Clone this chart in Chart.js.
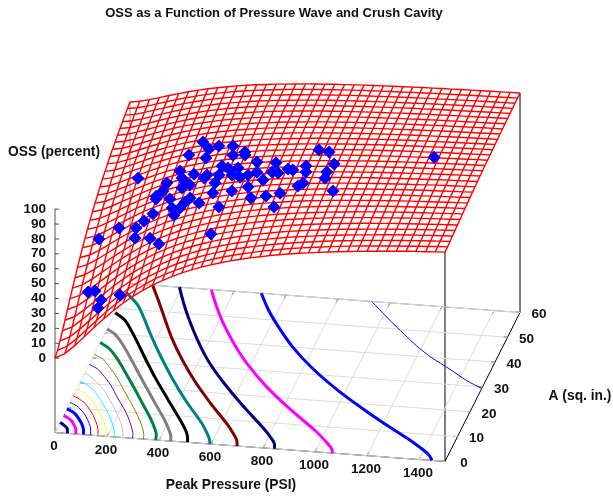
<!DOCTYPE html>
<html>
<head>
<meta charset="utf-8">
<title>OSS as a Function of Pressure Wave and Crush Cavity</title>
<script src="https://cdn.jsdelivr.net/npm/chart.js@4"></script>
<style>
  html, body { margin: 0; padding: 0; background: #fff; }
  canvas { display: block; }
</style>
</head>
<body>
<canvas id="chart" width="613" height="498"></canvas>
<script>
const chartTitle = "OSS as a Function of Pressure Wave and Crush Cavity";
const pressureLabel = "Peak Pressure (PSI)";
const areaLabel = "A (sq. in.)";
const ossLabel = "OSS (percent)";

const pressureTicks = [0, 200, 400, 600, 800, 1000, 1200, 1400];
const areaTicks = [0, 10, 20, 30, 40, 50, 60];
const ossTicks = [0, 10, 20, 30, 40, 50, 60, 70, 80, 90, 100];

// surface nodes: one row of OSS per area, one column per pressure
const meshPressures = [0, 37.5, 75, 112.5, 150, 187.5, 225, 262.5, 300, 337.5, 375, 412.5, 450, 487.5, 525, 562.5, 600, 637.5, 675, 712.5, 750, 787.5, 825, 862.5, 900, 937.5, 975, 1012.5, 1050, 1087.5, 1125, 1162.5, 1200, 1237.5, 1275, 1312.5, 1350, 1387.5, 1425, 1462.5, 1500];
const meshAreas = [0, 2, 4, 6, 8, 10, 12, 14, 16, 18, 20, 22, 24, 26, 28, 30, 32, 34, 36, 38, 40, 42, 44, 46, 48, 50, 52, 54, 56, 58, 60];
const meshOss = [
  [0, 3.4, 9.1, 15.7, 22.4, 28.8, 34.8, 40.3, 45.3, 49.7, 53.7, 57.3, 60.5, 63.4, 65.9, 68.3, 70.3, 72.2, 73.9, 75.5, 76.9, 78.2, 79.4, 80.5, 81.5, 82.4, 83.2, 84.0, 84.7, 85.4, 86.0, 86.6, 87.2, 87.7, 88.2, 88.6, 89.1, 89.5, 89.8, 90.2, 90.5],
  [1.8, 5.1, 10.8, 17.2, 23.8, 30.1, 36.0, 41.4, 46.2, 50.6, 54.6, 58.1, 61.2, 64.0, 66.6, 68.8, 70.9, 72.7, 74.4, 75.9, 77.3, 78.6, 79.7, 80.8, 81.8, 82.7, 83.5, 84.3, 85.0, 85.7, 86.3, 86.9, 87.4, 87.9, 88.4, 88.8, 89.2, 89.6, 90.0, 90.4, 90.7],
  [4.8, 8.0, 13.5, 19.7, 26.1, 32.2, 37.9, 43.2, 47.9, 52.1, 55.9, 59.3, 62.4, 65.1, 67.6, 69.8, 71.8, 73.6, 75.2, 76.7, 78.0, 79.2, 80.4, 81.4, 82.3, 83.2, 84.0, 84.8, 85.5, 86.1, 86.7, 87.3, 87.8, 88.3, 88.7, 89.2, 89.6, 90.0, 90.3, 90.7, 91.0],
  [8.3, 11.4, 16.7, 22.7, 28.8, 34.7, 40.2, 45.2, 49.8, 53.9, 57.6, 60.8, 63.8, 66.4, 68.8, 70.9, 72.8, 74.5, 76.1, 77.5, 78.8, 80.0, 81.1, 82.1, 83.0, 83.8, 84.6, 85.3, 86.0, 86.6, 87.2, 87.7, 88.2, 88.7, 89.2, 89.6, 90.0, 90.3, 90.7, 91.0, 91.3],
  [12.0, 15.0, 20.1, 25.9, 31.7, 37.4, 42.7, 47.5, 51.9, 55.8, 59.3, 62.4, 65.3, 67.8, 70.0, 72.1, 73.9, 75.6, 77.1, 78.4, 79.7, 80.8, 81.9, 82.8, 83.7, 84.5, 85.2, 85.9, 86.6, 87.2, 87.7, 88.2, 88.7, 89.2, 89.6, 90.0, 90.4, 90.7, 91.1, 91.4, 91.7],
  [15.9, 18.8, 23.6, 29.1, 34.7, 40.1, 45.2, 49.8, 54.0, 57.7, 61.1, 64.1, 66.8, 69.2, 71.4, 73.3, 75.1, 76.6, 78.1, 79.4, 80.6, 81.7, 82.7, 83.6, 84.4, 85.2, 85.9, 86.6, 87.2, 87.7, 88.3, 88.8, 89.2, 89.7, 90.1, 90.4, 90.8, 91.1, 91.5, 91.7, 92.0],
  [19.8, 22.5, 27.1, 32.4, 37.7, 42.9, 47.7, 52.1, 56.1, 59.7, 62.9, 65.7, 68.3, 70.6, 72.7, 74.5, 76.2, 77.7, 79.1, 80.3, 81.5, 82.5, 83.5, 84.3, 85.1, 85.9, 86.5, 87.2, 87.8, 88.3, 88.8, 89.3, 89.7, 90.1, 90.5, 90.9, 91.2, 91.5, 91.8, 92.1, 92.4],
  [23.6, 26.2, 30.6, 35.6, 40.7, 45.6, 50.2, 54.4, 58.2, 61.6, 64.6, 67.4, 69.8, 72.0, 74.0, 75.7, 77.3, 78.8, 80.1, 81.3, 82.4, 83.3, 84.2, 85.1, 85.8, 86.5, 87.2, 87.8, 88.3, 88.9, 89.3, 89.8, 90.2, 90.6, 91.0, 91.3, 91.6, 91.9, 92.2, 92.5, 92.8],
  [27.2, 29.7, 33.9, 38.7, 43.5, 48.2, 52.6, 56.6, 60.2, 63.4, 66.3, 68.9, 71.3, 73.3, 75.2, 76.9, 78.4, 79.8, 81.0, 82.2, 83.2, 84.1, 85.0, 85.8, 86.5, 87.2, 87.8, 88.4, 88.9, 89.4, 89.8, 90.3, 90.7, 91.0, 91.4, 91.7, 92.0, 92.3, 92.6, 92.9, 93.1],
  [30.7, 33.1, 37.1, 41.6, 46.2, 50.7, 54.9, 58.7, 62.1, 65.2, 67.9, 70.4, 72.6, 74.6, 76.4, 78.0, 79.5, 80.8, 82.0, 83.0, 84.0, 84.9, 85.7, 86.5, 87.2, 87.8, 88.4, 88.9, 89.4, 89.9, 90.3, 90.7, 91.1, 91.5, 91.8, 92.1, 92.4, 92.7, 93.0, 93.2, 93.4],
  [34.1, 36.3, 40.1, 44.4, 48.8, 53.1, 57.0, 60.7, 63.9, 66.9, 69.5, 71.9, 74.0, 75.9, 77.6, 79.1, 80.5, 81.7, 82.8, 83.8, 84.8, 85.6, 86.4, 87.1, 87.8, 88.4, 88.9, 89.5, 89.9, 90.4, 90.8, 91.2, 91.6, 91.9, 92.2, 92.5, 92.8, 93.1, 93.3, 93.5, 93.8],
  [37.3, 39.4, 43.0, 47.1, 51.3, 55.3, 59.1, 62.5, 65.7, 68.5, 71.0, 73.2, 75.2, 77.0, 78.6, 80.1, 81.4, 82.6, 83.7, 84.6, 85.5, 86.3, 87.1, 87.7, 88.4, 88.9, 89.5, 90.0, 90.4, 90.9, 91.2, 91.6, 92.0, 92.3, 92.6, 92.9, 93.1, 93.4, 93.6, 93.8, 94.1],
  [40.3, 42.3, 45.7, 49.6, 53.6, 57.5, 61.1, 64.3, 67.3, 70.0, 72.4, 74.5, 76.4, 78.1, 79.7, 81.0, 82.3, 83.4, 84.4, 85.4, 86.2, 87.0, 87.7, 88.3, 88.9, 89.5, 90.0, 90.5, 90.9, 91.3, 91.7, 92.0, 92.3, 92.6, 92.9, 93.2, 93.5, 93.7, 93.9, 94.1, 94.3],
  [43.1, 45.0, 48.3, 52.0, 55.8, 59.5, 62.9, 66.0, 68.8, 71.4, 73.7, 75.7, 77.5, 79.1, 80.6, 81.9, 83.1, 84.2, 85.2, 86.0, 86.9, 87.6, 88.3, 88.9, 89.4, 90.0, 90.4, 90.9, 91.3, 91.7, 92.1, 92.4, 92.7, 93.0, 93.3, 93.5, 93.8, 94.0, 94.2, 94.4, 94.6],
  [45.7, 47.6, 50.7, 54.2, 57.9, 61.4, 64.6, 67.6, 70.3, 72.7, 74.9, 76.8, 78.6, 80.1, 81.5, 82.8, 83.9, 84.9, 85.9, 86.7, 87.5, 88.2, 88.8, 89.4, 89.9, 90.4, 90.9, 91.3, 91.7, 92.1, 92.4, 92.7, 93.0, 93.3, 93.6, 93.8, 94.1, 94.3, 94.5, 94.7, 94.9],
  [48.2, 50.0, 53.0, 56.4, 59.8, 63.1, 66.2, 69.1, 71.7, 74.0, 76.0, 77.9, 79.6, 81.0, 82.4, 83.6, 84.6, 85.6, 86.5, 87.3, 88.0, 88.7, 89.3, 89.9, 90.4, 90.9, 91.3, 91.7, 92.1, 92.5, 92.8, 93.1, 93.4, 93.6, 93.9, 94.1, 94.3, 94.5, 94.7, 94.9, 95.1],
  [50.6, 52.2, 55.1, 58.3, 61.6, 64.8, 67.8, 70.5, 72.9, 75.1, 77.1, 78.9, 80.5, 81.9, 83.2, 84.3, 85.3, 86.3, 87.1, 87.9, 88.6, 89.2, 89.8, 90.3, 90.8, 91.3, 91.7, 92.1, 92.5, 92.8, 93.1, 93.4, 93.7, 93.9, 94.2, 94.4, 94.6, 94.8, 95.0, 95.1, 95.3],
  [52.7, 54.3, 57.1, 60.2, 63.3, 66.4, 69.2, 71.8, 74.1, 76.2, 78.1, 79.8, 81.3, 82.7, 83.9, 85.0, 86.0, 86.9, 87.7, 88.4, 89.1, 89.7, 90.3, 90.8, 91.2, 91.7, 92.1, 92.4, 92.8, 93.1, 93.4, 93.7, 93.9, 94.2, 94.4, 94.6, 94.8, 95.0, 95.2, 95.4, 95.5],
  [54.8, 56.3, 58.9, 61.9, 64.9, 67.8, 70.5, 73.0, 75.3, 77.3, 79.1, 80.7, 82.2, 83.4, 84.6, 85.7, 86.6, 87.5, 88.2, 88.9, 89.6, 90.2, 90.7, 91.2, 91.6, 92.0, 92.4, 92.8, 93.1, 93.4, 93.7, 94.0, 94.2, 94.4, 94.7, 94.9, 95.1, 95.2, 95.4, 95.6, 95.7],
  [56.7, 58.2, 60.7, 63.5, 66.4, 69.2, 71.8, 74.2, 76.3, 78.3, 80.0, 81.5, 82.9, 84.2, 85.3, 86.3, 87.2, 88.0, 88.7, 89.4, 90.0, 90.6, 91.1, 91.5, 92.0, 92.4, 92.7, 93.1, 93.4, 93.7, 94.0, 94.2, 94.5, 94.7, 94.9, 95.1, 95.3, 95.4, 95.6, 95.8, 95.9],
  [58.6, 60.0, 62.4, 65.1, 67.8, 70.5, 73.0, 75.3, 77.3, 79.2, 80.8, 82.3, 83.6, 84.8, 85.9, 86.9, 87.7, 88.5, 89.2, 89.9, 90.4, 91.0, 91.5, 91.9, 92.3, 92.7, 93.1, 93.4, 93.7, 94.0, 94.2, 94.5, 94.7, 94.9, 95.1, 95.3, 95.5, 95.6, 95.8, 95.9, 96.1],
  [60.3, 61.6, 63.9, 66.5, 69.2, 71.7, 74.1, 76.3, 78.3, 80.0, 81.6, 83.0, 84.3, 85.4, 86.5, 87.4, 88.2, 89.0, 89.6, 90.3, 90.8, 91.3, 91.8, 92.2, 92.6, 93.0, 93.3, 93.7, 93.9, 94.2, 94.5, 94.7, 94.9, 95.1, 95.3, 95.5, 95.7, 95.8, 96.0, 96.1, 96.2],
  [61.9, 63.2, 65.4, 67.9, 70.4, 72.9, 75.1, 77.2, 79.1, 80.8, 82.4, 83.7, 84.9, 86.0, 87.0, 87.9, 88.7, 89.4, 90.1, 90.7, 91.2, 91.7, 92.1, 92.6, 92.9, 93.3, 93.6, 93.9, 94.2, 94.4, 94.7, 94.9, 95.1, 95.3, 95.5, 95.7, 95.8, 96.0, 96.1, 96.3, 96.4],
  [63.4, 64.6, 66.7, 69.1, 71.6, 73.9, 76.1, 78.1, 80.0, 81.6, 83.1, 84.4, 85.5, 86.6, 87.5, 88.4, 89.1, 89.8, 90.5, 91.0, 91.5, 92.0, 92.5, 92.8, 93.2, 93.6, 93.9, 94.1, 94.4, 94.7, 94.9, 95.1, 95.3, 95.5, 95.7, 95.8, 96.0, 96.1, 96.3, 96.4, 96.5],
  [64.8, 66.0, 68.0, 70.3, 72.7, 74.9, 77.1, 79.0, 80.7, 82.3, 83.7, 85.0, 86.1, 87.1, 88.0, 88.8, 89.6, 90.2, 90.8, 91.4, 91.9, 92.3, 92.7, 93.1, 93.5, 93.8, 94.1, 94.4, 94.6, 94.9, 95.1, 95.3, 95.5, 95.7, 95.8, 96.0, 96.1, 96.3, 96.4, 96.5, 96.7],
  [66.2, 67.3, 69.2, 71.5, 73.7, 75.9, 77.9, 79.8, 81.5, 83.0, 84.3, 85.5, 86.6, 87.6, 88.5, 89.3, 90.0, 90.6, 91.2, 91.7, 92.2, 92.6, 93.0, 93.4, 93.7, 94.0, 94.3, 94.6, 94.8, 95.1, 95.3, 95.5, 95.7, 95.8, 96.0, 96.2, 96.3, 96.4, 96.6, 96.7, 96.8],
  [67.4, 68.5, 70.4, 72.5, 74.7, 76.8, 78.7, 80.5, 82.2, 83.6, 84.9, 86.1, 87.1, 88.1, 88.9, 89.7, 90.3, 90.9, 91.5, 92.0, 92.5, 92.9, 93.3, 93.6, 94.0, 94.3, 94.5, 94.8, 95.0, 95.3, 95.5, 95.6, 95.8, 96.0, 96.1, 96.3, 96.4, 96.6, 96.7, 96.8, 96.9],
  [68.6, 69.7, 71.5, 73.5, 75.6, 77.6, 79.5, 81.3, 82.8, 84.2, 85.5, 86.6, 87.6, 88.5, 89.3, 90.0, 90.7, 91.3, 91.8, 92.3, 92.8, 93.2, 93.5, 93.9, 94.2, 94.5, 94.7, 95.0, 95.2, 95.4, 95.6, 95.8, 96.0, 96.1, 96.3, 96.4, 96.6, 96.7, 96.8, 96.9, 97.0],
  [69.7, 70.7, 72.5, 74.5, 76.5, 78.4, 80.3, 81.9, 83.4, 84.8, 86.0, 87.1, 88.0, 88.9, 89.7, 90.4, 91.0, 91.6, 92.1, 92.6, 93.0, 93.4, 93.8, 94.1, 94.4, 94.7, 94.9, 95.2, 95.4, 95.6, 95.8, 96.0, 96.1, 96.3, 96.4, 96.6, 96.7, 96.8, 96.9, 97.0, 97.1],
  [70.8, 71.8, 73.4, 75.4, 77.3, 79.2, 80.9, 82.5, 84.0, 85.3, 86.5, 87.5, 88.5, 89.3, 90.0, 90.7, 91.3, 91.9, 92.4, 92.8, 93.3, 93.6, 94.0, 94.3, 94.6, 94.9, 95.1, 95.3, 95.5, 95.7, 95.9, 96.1, 96.3, 96.4, 96.5, 96.7, 96.8, 96.9, 97.0, 97.1, 97.2],
  [71.8, 72.8, 74.4, 76.2, 78.1, 79.9, 81.6, 83.2, 84.6, 85.8, 86.9, 88.0, 88.9, 89.7, 90.4, 91.1, 91.6, 92.2, 92.7, 93.1, 93.5, 93.9, 94.2, 94.5, 94.8, 95.0, 95.3, 95.5, 95.7, 95.9, 96.1, 96.2, 96.4, 96.5, 96.7, 96.8, 96.9, 97.0, 97.1, 97.2, 97.3],
];

// measured points
const pointPressure = [368, 406, 440, 498, 556, 562, 515, 332, 406, 150, 317, 381, 436, 428, 335, 354, 378, 348, 280, 272, 248, 250, 310, 394, 377, 364, 329, 437, 344, 250, 219, 194, 120, 52, 195, 262, 309, 519, 523, 483, 481, 486, 489, 515, 540, 555, 577, 605, 622, 638, 673, 697, 697, 721, 753, 773, 819, 760, 708, 755, 650, 625, 564, 844, 885, 923, 820, 828, 908, 910, 835, 961, 1292, 72, 101, 135, 130, 212];
const pointArea = [41.8, 38.7, 39.6, 38.8, 36.3, 35.1, 35.3, 38.1, 36.3, 35.2, 34, 32, 30.9, 30.2, 31.9, 30.4, 29.4, 29.2, 31.3, 29.8, 29.3, 28.8, 27.4, 26.1, 25.5, 24.2, 25.2, 24.4, 23.6, 26.4, 25.7, 24.5, 26.3, 24.3, 23.4, 21.5, 18.9, 16.8, 22.3, 25.8, 28, 30.1, 31.9, 31.3, 29.3, 31, 28.1, 28.6, 32.2, 28.8, 26.5, 28.7, 31.8, 28.5, 29.8, 29.5, 24, 21.9, 21.5, 18.1, 21.5, 24.5, 24.2, 35.7, 35.2, 31.3, 30.3, 28.5, 28.6, 26.7, 24.8, 22.5, 34.5, 11.5, 11, 8.8, 7.3, 7.8];
const pointOss = [80, 81, 82, 84, 85, 85, 84, 77, 79, 64, 73, 75, 77, 76, 72, 72, 72, 70, 69, 66, 63, 62, 65, 69, 67, 65, 63, 69, 61, 56, 52, 49, 45, 40, 44, 48, 49, 62, 71, 74, 77, 79, 82, 82, 81, 83, 82, 83, 86, 85, 84, 86, 87, 86, 87, 87, 86, 84, 82, 81, 80, 82, 79, 91, 91, 90, 89, 88, 89, 88, 87, 87, 94, 26, 28, 26, 23, 32];

// contours on the base plane, one per OSS level
const contourLevels = [5, 10, 15, 20, 25, 30, 35, 40, 45, 50, 55, 60, 65, 70, 75, 80, 85, 90, 95];
const contourPressure = [
  [48, 43, 37, 21, 0],
  [80, 70, 51, 40, 21, 0],
  [109, 100, 84, 63, 37, 15, 0],
  [137, 122, 96, 75, 47, 30, 0],
  [165, 156, 143, 107, 84, 60, 20, 0],
  [195, 187, 174, 139, 95, 71, 40, 15, 0],
  [226, 219, 197, 152, 108, 72, 40, 15, 0],
  [260, 252, 231, 186, 145, 100, 56, 22, 0],
  [298, 290, 260, 224, 170, 118, 67, 37, 0],
  [340, 332, 302, 244, 181, 117, 66, 38, 0],
  [387, 380, 366, 330, 268, 206, 142, 98, 47, 0],
  [444, 436, 420, 383, 298, 214, 152, 88, 37, 0],
  [510, 500, 486, 446, 358, 271, 190, 131, 69, 44, 0],
  [596, 584, 566, 525, 427, 338, 256, 179, 107, 67, 0],
  [700, 690, 671, 625, 520, 422, 335, 257, 189, 139, 87],
  [844, 834, 813, 760, 644, 535, 437, 356, 284, 235, 190],
  [1069, 1052, 1025, 965, 825, 697, 587, 494, 413, 360, 313],
  [1450, 1429, 1395, 1315, 1225, 1140, 980, 840, 722, 625, 560, 505],
  [1500, 1430, 1345, 1255, 1180, 1115, 1020, 930],
];
const contourArea = [
  [0, 1, 2, 3, 4.1],
  [0, 2, 4, 5, 6, 6.9],
  [0, 2, 4, 6, 8, 9, 9.5],
  [0, 3, 6, 8, 10, 11, 12.1],
  [0, 2, 4, 8, 10, 12, 14, 14.7],
  [0, 2, 4, 8, 12, 14, 16, 17, 17.6],
  [0, 2, 5, 10, 14, 17, 19, 20, 20.6],
  [0, 2, 5, 10, 14, 18, 21, 23, 23.9],
  [0, 2, 6, 10, 15, 20, 24, 26, 27.4],
  [0, 2, 6, 12, 18, 24, 28, 30, 31.5],
  [0, 2, 4, 8, 14, 20, 26, 30, 34, 36.2],
  [0, 2, 4, 8, 16, 24, 30, 36, 40, 41.7],
  [0, 2, 4, 8, 16, 24, 32, 38, 44, 46, 48.2],
  [0, 2, 4, 8, 16, 24, 32, 40, 48, 52, 56.6],
  [0, 2, 4, 8, 16, 24, 32, 40, 48, 54, 60],
  [0, 2, 4, 8, 16, 24, 32, 40, 48, 54, 60],
  [0, 2, 4, 8, 16, 24, 32, 40, 48, 54, 60],
  [0, 2, 4, 8, 12, 16, 24, 32, 40, 48, 54, 60],
  [29.4, 32, 36, 40, 44, 48, 54, 60],
];
const contourColors = ["#000080", "#ff00ff", "#0000ff", "#0000ff", "#ff0000", "#ffff00", "#00ffff", "#c0c0c0", "#800080", "#808000", "#008040", "#808080", "#000000", "#008080", "#800000", "#000080", "#ff00ff", "#0000ff", "#0000ff"];
const contourWidths = [3, 3, 3, 1, 1, 1, 1, 1, 1, 1, 3, 3, 3, 3, 3, 3, 3, 3, 1];

const P_MAX = 1500;
const A_MAX = 60;
const Z_BASE = -50;

// view of the box: pressure, area and OSS onto the page
function project(p, a, z) {
  return {
    x: 55 + 0.26 * p + 1.25 * a,
    y: 358 + 0.0193 * p - 2.483 * a - 1.49 * z,
  };
}

function line(points, color, width, order, tension = 0) {
  return {
    data: points,
    showLine: true,
    borderColor: color,
    borderWidth: width,
    pointRadius: 0,
    tension: tension,
    order: order,
  };
}

function segment(from, to, color, width = 1) {
  return line([project(...from), project(...to)], color, width, 4);
}

const GRID = "#dcdcdc";
const frame = [];

pressureTicks.forEach((p) => {
  frame.push(segment([p, 0, Z_BASE], [p, A_MAX, Z_BASE], GRID));
  frame.push(segment([p, 0, Z_BASE], [p, 1.5, Z_BASE], "#000"));
  frame.push(segment([p, A_MAX, Z_BASE], [p, A_MAX - 1.5, Z_BASE], "#000"));
});
areaTicks.forEach((a) => {
  frame.push(segment([0, a, Z_BASE], [P_MAX, a, Z_BASE], GRID));
  frame.push(segment([0, a, Z_BASE], [15, a, Z_BASE], "#000"));
  frame.push(segment([P_MAX, a, Z_BASE], [P_MAX - 15, a, Z_BASE], "#000"));
});
ossTicks.forEach((z) => {
  frame.push(segment([0, 0, z], [15, 0, z], "#444"));
});

// base outline and the upright edges of the box
frame.push(segment([0, 0, Z_BASE], [P_MAX, 0, Z_BASE], "#000"));
frame.push(segment([P_MAX, 0, Z_BASE], [P_MAX, A_MAX, Z_BASE], "#000"));
frame.push(segment([0, A_MAX, Z_BASE], [P_MAX, A_MAX, Z_BASE], "#777"));
frame.push(segment([0, 0, Z_BASE], [0, 0, 100], "#555"));
frame.push(segment([0, A_MAX, Z_BASE], [0, A_MAX, meshOss[30][0]], "#888"));
frame.push(segment([P_MAX, 0, Z_BASE], [P_MAX, 0, meshOss[0][40]], "#000"));
frame.push(segment([P_MAX, A_MAX, Z_BASE], [P_MAX, A_MAX, meshOss[30][40]], "#000"));

const contours = contourLevels.map((level, i) => {
  const points = contourPressure[i].map((p, k) =>
    project(p, contourArea[i][k], Z_BASE)
  );
  return line(points, contourColors[i], contourWidths[i], 3, 0.3);
});

const meshRows = meshAreas.map((a, j) =>
  line(meshPressures.map((p, i) => project(p, a, meshOss[j][i])), "#ff0000", 1.4, 2)
);
const meshColumns = meshPressures.map((p, i) =>
  line(meshAreas.map((a, j) => project(p, a, meshOss[j][i])), "#ff0000", 1.4, 2)
);

const measured = {
  data: pointPressure.map((p, i) => project(p, pointArea[i], pointOss[i])),
  pointStyle: "rectRot",
  pointRadius: 6.5,
  pointBorderWidth: 0,
  backgroundColor: "#0000ff",
  showLine: false,
  order: 1,
};

// gnuplot style text, placed through the same scales as the marks
const textPlugin = {
  id: "plotText",
  afterDatasetsDraw(chart) {
    const { ctx, scales } = chart;
    const put = (text, x, y, font, align = "center") => {
      ctx.font = font;
      ctx.textAlign = align;
      ctx.textBaseline = "middle";
      ctx.fillStyle = "#111";
      ctx.fillText(text, scales.x.getPixelForValue(x), scales.y.getPixelForValue(y));
    };
    const tickFont = 'bold 13.5px "Liberation Sans"';
    const labelFont = 'bold 13.8px "Liberation Sans"';
    ctx.save();
    put(chartTitle, 274, 13, 'bold 13px "Liberation Sans"');
    put(ossLabel, 8, 152, labelFont, "left");
    put(pressureLabel, 231, 485, labelFont);
    put(areaLabel, 580, 396, labelFont);
    ossTicks.forEach((z) => {
      const at = project(0, 0, z);
      put(String(z), at.x - 9, at.y, tickFont, "right");
    });
    pressureTicks.forEach((p) => {
      const at = project(p, 0, Z_BASE);
      put(String(p), at.x - 1, at.y + 13.5, tickFont);
    });
    areaTicks.forEach((a) => {
      const at = project(P_MAX, a, Z_BASE);
      put(String(a), at.x + 19, at.y + 2, tickFont);
    });
    ctx.restore();
  },
};

new Chart(document.getElementById("chart"), {
  type: "scatter",
  data: {
    datasets: [measured, ...meshRows, ...meshColumns, ...contours, ...frame],
  },
  options: {
    responsive: false,
    animation: false,
    layout: { padding: 0, autoPadding: false },
    scales: {
      x: { type: "linear", min: 0, max: 613, display: false },
      y: { type: "linear", min: 0, max: 498, reverse: true, display: false },
    },
    plugins: {
      legend: { display: false },
      tooltip: { enabled: false },
    },
  },
  plugins: [textPlugin],
});
</script>
</body>
</html>
